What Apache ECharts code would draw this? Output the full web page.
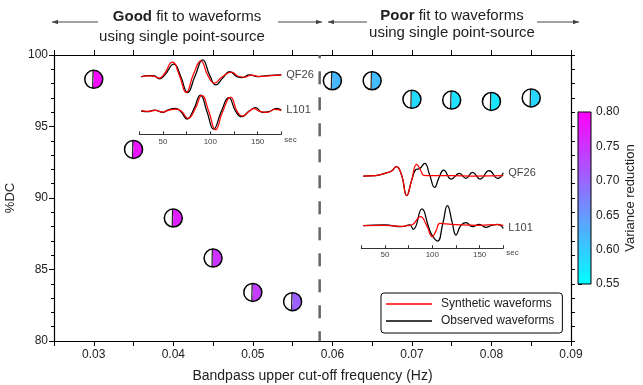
<!DOCTYPE html>
<html>
<head>
<meta charset="utf-8">
<script src="https://cdn.jsdelivr.net/npm/echarts@6/dist/echarts.min.js"></script>
<style>
    html, body { margin: 0; padding: 0; background: #fff; }
    #chart { width: 643px; height: 385px; }
</style>
</head>
<body>
<div id="chart"></div>
<script>
    // beachball points: bandpass cut-off (Hz), %DC, variance reduction
    var freqs = [0.030, 0.035, 0.040, 0.045, 0.050, 0.055, 0.060, 0.065, 0.070, 0.075, 0.080, 0.085];
    var dcValues = [98.3, 93.4, 88.6, 85.8, 83.4, 82.75, 98.2, 98.2, 96.9, 96.85, 96.75, 97.0];
    var varReduction = [0.79, 0.78, 0.77, 0.75, 0.74, 0.705, 0.62, 0.615, 0.585, 0.58, 0.575, 0.59];
    var cutoffFreq = 0.0584;
    var colorbarTicks = [0.55, 0.60, 0.65, 0.70, 0.75, 0.80];

    // waveforms [sec, normalized amplitude] -- good fit inset (0.03 Hz)
    var goodQF26Obs = [[27,-0.02],[34,0.06],[40,0.06],[46.5,-0.14],[52,0.1],[61.5,0.74],[68.5,0.05],[76,-0.96],[84,0.05],[92,1.0],[99.5,0.05],[106,-0.5],[113,-0.1],[120.5,0.3],[128.5,-0.02],[134,-0.06],[141,0.1],[150,0],[160,0.06],[175,0.1]];
    var goodQF26Syn = [[27,0],[34,0.04],[40,0.02],[46,-0.1],[51,0.12],[60,0.86],[67.5,0.05],[74.5,-0.96],[82,0.1],[90,0.94],[97.5,0.05],[104.5,-0.4],[112,-0.05],[122.5,0.26],[130,0],[136,-0.04],[143,0.08],[152,0],[162,0.04],[175,0.08]];
    var goodL101Obs = [[27,0],[34,-0.04],[41,0.06],[50,-0.08],[55,0.06],[63,0.16],[69,-0.04],[75.5,-0.48],[82.5,0.1],[89.5,0.96],[96.5,-0.04],[103.5,-1.08],[111.5,-0.04],[119.5,0.8],[127,-0.04],[133,-0.34],[141,0],[148,0.2],[155,-0.08],[162,-0.04],[170,0.16],[175,0.06]];
    var goodL101Syn = [[27,0.02],[34,-0.02],[42,0.04],[50,-0.06],[56,0.06],[64,0.12],[70,-0.04],[76.5,-0.44],[84,0.12],[91,0.94],[98.5,-0.04],[105.5,-1.12],[113,-0.04],[121.5,0.84],[128.5,-0.04],[134,-0.3],[141,-0.02],[146,0.14],[153,-0.04],[160,-0.08],[168,0.1],[175,0.04]];

    // poor fit inset (0.08 Hz)
    var poorQF26Obs = [[27,0],[40,0.02],[50,0.16],[57,0.3],[62,0.56],[67.5,0.06],[73,-1.18],[78,-0.3],[83,0.4],[86.5,0.44],[92,0.76],[97,0.1],[102.5,-0.68],[107,-0.1],[112,0.36],[120,-0.18],[128.5,0.16],[135.5,-0.14],[142.5,0.22],[150.5,-0.18],[160,0.32],[169,-0.14],[175,0.2]];
    var poorQF26Syn = [[27,0],[40,0.02],[50,0.16],[57,0.3],[62,0.56],[67.5,0.06],[73,-1.18],[78,-0.3],[83.5,0.7],[88,0.3],[91,0.04],[100,0.02],[120,0.02],[145,0],[175,0.02]];
    var poorL101Obs = [[27,0],[50,0.04],[67.5,-0.06],[76,0.04],[80,-0.22],[89,1.0],[96,-0.06],[99.5,-0.55],[105.5,-0.92],[111,0.1],[116,1.2],[121,0.2],[125,-0.56],[130,0],[135.5,0.18],[142.5,-0.06],[149.5,0.08],[156.5,-0.1],[162,0],[169,0.08],[175,-0.16]];
    var poorL101Syn = [[27,0],[50,0.02],[67,-0.04],[76,0.02],[80,0.1],[87.5,0.54],[94,0.02],[100,-0.66],[104,-0.3],[108,0.14],[115,0.1],[130,0.04],[150,0.02],[168,0.06],[175,0.02]];

    var FONT = 'Liberation Sans, Arial, Helvetica, sans-serif';
    var TXT = '#222';

    var ballData = freqs.map(function (f, i) { return [f, dcValues[i], varReduction[i]]; });
    var cbLo = colorbarTicks[0], cbHi = colorbarTicks[colorbarTicks.length - 1];

    function renderBall(params, api) {
        var c = api.coord([api.value(0), api.value(1)]);
        var r = 9;
        var col = api.visual('color');
        return {
            type: 'group',
            children: [
                { type: 'circle', shape: { cx: c[0], cy: c[1], r: r }, style: { fill: '#fff' } },
                { type: 'sector', shape: { cx: c[0], cy: c[1], r0: 0, r: r, startAngle: -Math.PI / 2 - 0.08, endAngle: Math.PI / 2 + 0.12, clockwise: true }, style: { fill: col } },
                { type: 'line', shape: { x1: c[0] - 0.7, y1: c[1] - r, x2: c[0] - 1.1, y2: c[1] + r }, style: { stroke: '#222', lineWidth: 1.2 } },
                { type: 'circle', shape: { cx: c[0], cy: c[1], r: r }, style: { fill: 'none', stroke: '#000', lineWidth: 1.5 } }
            ]
        };
    }

    function renderColorbar(params, api) {
        var p0 = api.coord([0, api.value(0)]);
        var p1 = api.coord([1, api.value(1)]);
        return {
            type: 'rect',
            shape: { x: p0[0], y: p1[1], width: p1[0] - p0[0], height: p0[1] - p1[1] },
            style: {
                fill: { type: 'linear', x: 0, y: 1, x2: 0, y2: 0, colorStops: [{ offset: 0, color: '#00ffff' }, { offset: 1, color: '#ff00ff' }] },
                stroke: '#000', lineWidth: 1
            }
        };
    }

    function wave(name, data, xi, color, label) {
        var s = {
            name: name, type: 'line', data: data,
            xAxisIndex: xi, yAxisIndex: xi,
            symbol: 'none', smooth: 0.5, silent: true,
            lineStyle: { color: color, width: 1.25 },
            itemStyle: { color: color }
        };
        if (label) {
            s.endLabel = { show: true, formatter: label, distance: 5, color: '#444', fontSize: 11, fontFamily: FONT };
        }
        return s;
    }

    function frameAxis(pos, extra) {
        var a = {
            position: pos,
            axisLine: { show: true, onZero: false, lineStyle: { color: '#000', width: 1.2 } },
            axisTick: { show: true, inside: false, length: 5, lineStyle: { color: '#000' } },
            splitLine: { show: false },
            axisLabel: { show: false }
        };
        for (var k in extra) a[k] = extra[k];
        return a;
    }

    function insetTimeAxis(gi, show) {
        if (!show) return { gridIndex: gi, type: 'value', min: 25, max: 175, show: false };
        return {
            gridIndex: gi, type: 'value', min: 25, max: 175, interval: 25,
            axisLine: { show: true, onZero: false, lineStyle: { color: '#333', width: 1 } },
            axisTick: { show: true, inside: true, length: 3, lineStyle: { color: '#333' } },
            splitLine: { show: false },
            axisLabel: {
                fontSize: 8, color: '#444', margin: 3,
                formatter: function (v) { return (v === 50 || v === 100 || v === 150) ? String(v) : ''; }
            },
            name: 'sec', nameLocation: 'end', nameGap: 3,
            nameTextStyle: { fontSize: 8, color: '#444', verticalAlign: 'top', padding: [1, 0, 0, 0] }
        };
    }

    function arrow(x1, x2, y, tipAtEnd) {
        var tip = tipAtEnd ? x2 : x1;
        var dir = tipAtEnd ? -1 : 1;
        return [
            { type: 'line', shape: { x1: x1, y1: y, x2: x2, y2: y }, style: { stroke: '#444', lineWidth: 1 } },
            { type: 'polygon', shape: { points: [[tip, y], [tip + dir * 6, y - 2.2], [tip + dir * 6, y + 2.2]] }, style: { fill: '#444' } }
        ];
    }

    var option = {
        animation: false,
        backgroundColor: '#fff',
        textStyle: { fontFamily: FONT },
        grid: [
            { left: 54, top: 55, width: 517, height: 286, outerBoundsMode: 'none' },
            { left: 139.3, top: 56.5, width: 142, height: 40, outerBoundsMode: 'none' },
            { left: 139.3, top: 91, width: 142, height: 43.4, outerBoundsMode: 'none' },
            { left: 361.3, top: 156, width: 142, height: 40, outerBoundsMode: 'none' },
            { left: 361.3, top: 204.8, width: 142, height: 43.4, outerBoundsMode: 'none' },
            { left: 578, top: 112, width: 13, height: 172, outerBoundsMode: 'none' }
        ],
        xAxis: [
            frameAxis('bottom', {
                gridIndex: 0, type: 'value', min: 0.025, max: 0.09, interval: 0.005,
                axisLabel: {
                    show: true, fontSize: 12, color: TXT, margin: 8,
                    formatter: function (v) { var k = Math.round(v * 200); return k % 2 === 0 ? (k / 200).toFixed(2) : ''; }
                },
                name: 'Bandpass upper cut-off frequency (Hz)', nameLocation: 'middle', nameGap: 28,
                nameTextStyle: { fontSize: 14, color: TXT }
            }),
            frameAxis('top', { gridIndex: 0, type: 'value', min: 0.025, max: 0.09, interval: 0.005 }),
            insetTimeAxis(1, false),
            insetTimeAxis(2, true),
            insetTimeAxis(3, false),
            insetTimeAxis(4, true),
            { gridIndex: 5, type: 'value', min: 0, max: 1, show: false }
        ],
        yAxis: [
            frameAxis('left', {
                gridIndex: 0, type: 'value', min: 80, max: 100, interval: 5,
                minorTick: { show: true, splitNumber: 5, length: 3, lineStyle: { color: '#000' } },
                axisLabel: { show: true, fontSize: 12, color: TXT, margin: 6 },
                name: '%DC', nameLocation: 'middle', nameGap: 33, nameRotate: 90,
                nameTextStyle: { fontSize: 13, color: TXT }
            }),
            frameAxis('right', {
                gridIndex: 0, type: 'value', min: 80, max: 100, interval: 5,
                axisTick: { show: true, length: 4, lineStyle: { color: '#000' } },
                minorTick: { show: true, splitNumber: 5, length: 4, lineStyle: { color: '#000' } }
            }),
            { gridIndex: 1, type: 'value', min: -1.2, max: 1.2, show: false },
            { gridIndex: 2, type: 'value', min: -1.4, max: 1.2, show: false },
            { gridIndex: 3, type: 'value', min: -1.2, max: 1.2, show: false },
            { gridIndex: 4, type: 'value', min: -1.35, max: 1.25, show: false },
            {
                gridIndex: 5, type: 'value', position: 'right', min: cbLo, max: cbHi, interval: 0.05,
                axisLine: { show: true, lineStyle: { color: '#000', width: 1 } },
                axisTick: { show: true, length: 4, lineStyle: { color: '#000' } },
                minorTick: { show: true, splitNumber: 5, length: 2.5, lineStyle: { color: '#000' } },
                splitLine: { show: false },
                axisLabel: { fontSize: 12, color: TXT, margin: 5, formatter: function (v) { return v.toFixed(2); } },
                name: 'Variance reduction', nameLocation: 'middle', nameGap: 33, nameRotate: 90,
                nameTextStyle: { fontSize: 13, color: TXT }
            }
        ],
        visualMap: {
            type: 'continuous', show: false, seriesIndex: 0, dimension: 2,
            min: cbLo, max: cbHi,
            inRange: { color: ['#00ffff', '#ff00ff'] }
        },
        legend: {
            data: ['Synthetic waveforms', 'Observed waveforms'],
            orient: 'vertical', left: 381, top: 293,
            icon: 'rect', itemWidth: 46, itemHeight: 1.4, itemGap: 3,
            padding: [4, 8, 5, 5],
            borderColor: '#000', borderWidth: 1, borderRadius: 3,
            backgroundColor: '#fff', selectedMode: false,
            textStyle: { fontSize: 12, color: TXT, padding: [0, 0, 0, 4], lineHeight: 14 }
        },
        graphic: [
            {
                type: 'text', x: 187, y: 17,
                style: {
                    text: '{b|Good} fit to waveforms', fontSize: 15, fontFamily: FONT, fill: TXT,
                    align: 'center', verticalAlign: 'middle',
                    rich: { b: { fontWeight: 'bold', fontSize: 15, fontFamily: FONT, fill: TXT } }
                }
            },
            { type: 'text', x: 182, y: 37, style: { text: 'using single point-source', fontSize: 15, fontFamily: FONT, fill: TXT, align: 'center', verticalAlign: 'middle' } },
            {
                type: 'text', x: 452, y: 16,
                style: {
                    text: '{b|Poor} fit to waveforms', fontSize: 15, fontFamily: FONT, fill: TXT,
                    align: 'center', verticalAlign: 'middle',
                    rich: { b: { fontWeight: 'bold', fontSize: 15, fontFamily: FONT, fill: TXT } }
                }
            },
            { type: 'text', x: 452, y: 33, style: { text: 'using single point-source', fontSize: 15, fontFamily: FONT, fill: TXT, align: 'center', verticalAlign: 'middle' } }
        ].concat(arrow(52, 98, 22, false), arrow(278, 322, 22, true), arrow(328, 367, 22, false), arrow(537, 579, 22, true)),
        series: [
            {
                type: 'custom', name: 'beachballs', data: ballData,
                xAxisIndex: 0, yAxisIndex: 0, renderItem: renderBall, z: 5, silent: true
            },
            {
                type: 'line', name: 'cutoff', data: [[cutoffFreq, 100], [cutoffFreq, 80]],
                xAxisIndex: 0, yAxisIndex: 0, symbol: 'none', silent: true,
                lineStyle: { color: '#666', width: 2.5, type: [13, 13], dashOffset: 9.7 }
            },
            {
                type: 'custom', name: 'colorbar', data: [[cbLo, cbHi]],
                xAxisIndex: 6, yAxisIndex: 6, renderItem: renderColorbar, silent: true
            },
            wave('Observed waveforms', goodQF26Obs, 2, '#000', 'QF26'),
            wave('Synthetic waveforms', goodQF26Syn, 2, '#ff0000'),
            wave('Observed waveforms', goodL101Obs, 3, '#000', 'L101'),
            wave('Synthetic waveforms', goodL101Syn, 3, '#ff0000'),
            wave('Observed waveforms', poorQF26Obs, 4, '#000', 'QF26'),
            wave('Synthetic waveforms', poorQF26Syn, 4, '#ff0000'),
            wave('Observed waveforms', poorL101Obs, 5, '#000', 'L101'),
            wave('Synthetic waveforms', poorL101Syn, 5, '#ff0000')
        ]
    };

    var chart = echarts.init(document.getElementById('chart'));
    chart.setOption(option);
</script>
</body>
</html>
